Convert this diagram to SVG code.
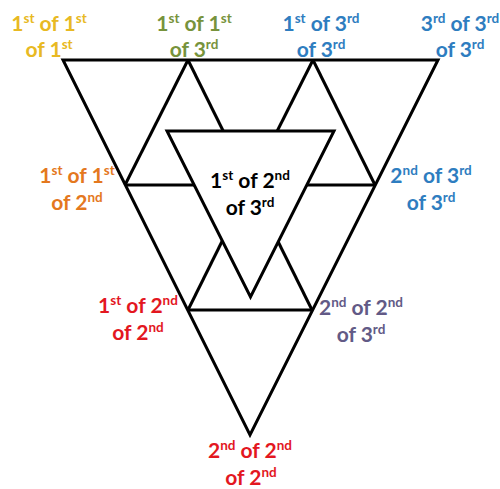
<svg xmlns="http://www.w3.org/2000/svg" width="500" height="489" viewBox="0 0 500 489">
<style>
.ln{stroke:#000;stroke-width:3;fill:none;stroke-linejoin:miter;stroke-linecap:butt}
.lab{font-family:Lato,"Open Sans","Liberation Sans",sans-serif;font-weight:bold;font-size:21px;text-anchor:middle}
.sup{font-size:13.5px}
</style>
<rect width="500" height="489" fill="#fff"/>
<g id="connectors">
<polygon class="ln" points="63,60 438,60 250,435"/>
<line class="ln" x1="188" y1="60" x2="125" y2="185"/>
<line class="ln" x1="188" y1="60" x2="250" y2="185"/>
<line class="ln" x1="313" y1="60" x2="250" y2="185"/>
<line class="ln" x1="313" y1="60" x2="375" y2="185"/>
<line class="ln" x1="125" y1="185" x2="375" y2="185"/>
<line class="ln" x1="188" y1="310" x2="250" y2="185"/>
<line class="ln" x1="312" y1="310" x2="250" y2="185"/>
<line class="ln" x1="188" y1="310" x2="312" y2="310"/>
</g>
<g id="center">
<polygon class="ln" points="167,131 334,131 250.5,297" style="fill:#fff"/>
<text class="lab" fill="#000"><tspan x="250" y="188">1</tspan><tspan class="sup" dy="-8">st</tspan><tspan dy="8"> of 2</tspan><tspan class="sup" dy="-8">nd</tspan><tspan x="250" y="215">of 3</tspan><tspan class="sup" dy="-8">rd</tspan></text>
</g>
<g id="n111">
<text class="lab" fill="#E8B923"><tspan x="49" y="31">1</tspan><tspan class="sup" dy="-8">st</tspan><tspan dy="8"> of 1</tspan><tspan class="sup" dy="-8">st</tspan><tspan x="49" y="57">of 1</tspan><tspan class="sup" dy="-8">st</tspan></text>
</g>
<g id="n113">
<text class="lab" fill="#77933C"><tspan x="194" y="31">1</tspan><tspan class="sup" dy="-8">st</tspan><tspan dy="8"> of 1</tspan><tspan class="sup" dy="-8">st</tspan><tspan x="194" y="57">of 3</tspan><tspan class="sup" dy="-8">rd</tspan></text>
</g>
<g id="n133">
<text class="lab" fill="#2E7DC0"><tspan x="321" y="31">1</tspan><tspan class="sup" dy="-8">st</tspan><tspan dy="8"> of 3</tspan><tspan class="sup" dy="-8">rd</tspan><tspan x="321" y="57">of 3</tspan><tspan class="sup" dy="-8">rd</tspan></text>
</g>
<g id="n333">
<text class="lab" fill="#2E7DC0"><tspan x="460" y="31">3</tspan><tspan class="sup" dy="-8">rd</tspan><tspan dy="8"> of 3</tspan><tspan class="sup" dy="-8">rd</tspan><tspan x="460" y="57">of 3</tspan><tspan class="sup" dy="-8">rd</tspan></text>
</g>
<g id="n112">
<text class="lab" fill="#E4781E"><tspan x="77" y="183">1</tspan><tspan class="sup" dy="-8">st</tspan><tspan dy="8"> of 1</tspan><tspan class="sup" dy="-8">st</tspan><tspan x="77" y="210">of 2</tspan><tspan class="sup" dy="-8">nd</tspan></text>
</g>
<g id="n233">
<text class="lab" fill="#2E7DC0"><tspan x="431" y="183">2</tspan><tspan class="sup" dy="-8">nd</tspan><tspan dy="8"> of 3</tspan><tspan class="sup" dy="-8">rd</tspan><tspan x="431" y="210">of 3</tspan><tspan class="sup" dy="-8">rd</tspan></text>
</g>
<g id="n122">
<text class="lab" fill="#E3171F"><tspan x="138" y="313">1</tspan><tspan class="sup" dy="-8">st</tspan><tspan dy="8"> of 2</tspan><tspan class="sup" dy="-8">nd</tspan><tspan x="138" y="340">of 2</tspan><tspan class="sup" dy="-8">nd</tspan></text>
</g>
<g id="n223">
<text class="lab" fill="#625A86"><tspan x="361" y="315">2</tspan><tspan class="sup" dy="-8">nd</tspan><tspan dy="8"> of 2</tspan><tspan class="sup" dy="-8">nd</tspan><tspan x="361" y="342">of 3</tspan><tspan class="sup" dy="-8">rd</tspan></text>
</g>
<g id="n222">
<text class="lab" fill="#E3171F"><tspan x="250" y="458">2</tspan><tspan class="sup" dy="-8">nd</tspan><tspan dy="8"> of 2</tspan><tspan class="sup" dy="-8">nd</tspan><tspan x="251" y="485">of 2</tspan><tspan class="sup" dy="-8">nd</tspan></text>
</g>
</svg>
